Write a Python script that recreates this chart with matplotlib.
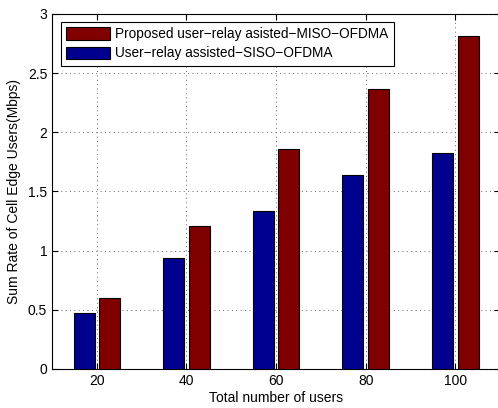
import numpy as np
import matplotlib
matplotlib.use('Agg')
import matplotlib.pyplot as plt

plt.rcParams['font.family'] = ['Liberation Sans', 'DejaVu Sans']

users = [20, 40, 60, 80, 100]
siso_rate = [0.477, 0.938, 1.339, 1.636, 1.825]
miso_rate = [0.604, 1.206, 1.856, 2.367, 2.814]
siso_label = 'User\u2212relay assisted\u2212SISO\u2212OFDMA'
miso_label = 'Proposed user\u2212relay asisted\u2212MISO\u2212OFDMA'

fig = plt.figure(figsize=(4.98, 4.08), dpi=100)
ax = fig.add_axes([0.1044, 0.0956, 0.9, 0.8701])

x = np.array(users, dtype=float)
w = 4.7
off = 2.85
b_siso = ax.bar(x - off, siso_rate, w, color='#00008F', edgecolor='black', linewidth=0.8, zorder=3)
b_miso = ax.bar(x + off, miso_rate, w, color='#800000', edgecolor='black', linewidth=0.8, zorder=3)

ax.set_xlim(10, 110)
ax.set_ylim(0, 3)
ax.set_xticks(users)
ax.set_yticks(np.arange(0, 3.01, 0.5))
ax.set_yticklabels(['0', '0.5', '1', '1.5', '2', '2.5', '3'])
ax.tick_params(direction='in', top=True, right=True, labelsize=10, length=4, width=0.8)
ax.grid(True, color='0.4', linestyle=(0, (1, 3.5)), linewidth=0.7, zorder=0)
ax.set_axisbelow(True)
for s in ax.spines.values():
    s.set_linewidth(0.8)

ax.set_xlabel('Total number of users', fontsize=10, labelpad=2)
ax.set_ylabel('Sum Rate of Cell Edge Users(Mbps)', fontsize=10, labelpad=5)

leg = ax.legend([b_miso, b_siso], [miso_label, siso_label], loc='upper left',
                bbox_to_anchor=(0.02, 0.978), fontsize=9.8, fancybox=False,
                framealpha=1, edgecolor='black', handlelength=3.2, handleheight=1.0,
                borderpad=0.4, labelspacing=0.38, handletextpad=0.4, borderaxespad=0)
leg.get_frame().set_linewidth(0.8)

fig.savefig('out.png', dpi=100)
